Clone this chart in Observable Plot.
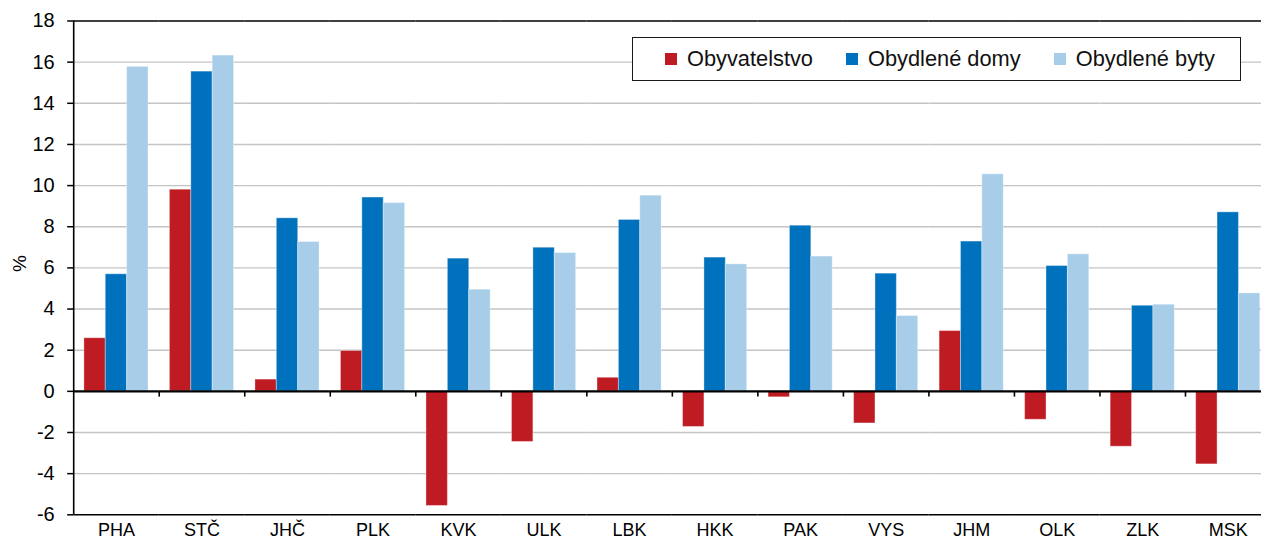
<!DOCTYPE html>
<html><head><meta charset="utf-8">
<script src="https://cdn.jsdelivr.net/npm/d3@7"></script>
<script src="https://cdn.jsdelivr.net/npm/@observablehq/plot@0.6"></script>
<style>
html,body{margin:0;padding:0;background:#fff;overflow:hidden}
#wrap{position:relative;width:1261px;height:540px}
#wrap svg{overflow:hidden;display:block}
.legend{position:absolute;left:632px;top:37px;width:609px;height:44px;box-sizing:border-box;border:1.5px solid #1a1a1a;background:#fff;display:flex;align-items:center;padding-left:32px;font-family:"Liberation Sans",Arial,sans-serif;font-size:21.8px;color:#111;white-space:nowrap}
.item{display:flex;align-items:center;margin-right:33px;white-space:nowrap;flex:none}
.sw{width:12px;height:12px;margin-right:10px;flex:none}
</style></head><body><div id="wrap"></div>
<script>
const regions = ["PHA","STČ","JHČ","PLK","KVK","ULK","LBK","HKK","PAK","VYS","JHM","OLK","ZLK","MSK"];
const series = ["Obyvatelstvo","Obydlené domy","Obydlené byty"];
const colors = ["#BE1B23","#0071BC","#A7CDE8"];
const obyvatelstvo = [2.58, 9.80, 0.57, 1.96, -5.57, -2.46, 0.66, -1.73, -0.29, -1.56, 2.93, -1.38, -2.69, -3.55];
const obydleneDomy = [5.69, 15.54, 8.41, 9.42, 6.45, 6.98, 8.33, 6.50, 8.05, 5.72, 7.28, 6.09, 4.16, 8.70];
const obydleneByty = [15.77, 16.32, 7.26, 9.15, 4.94, 6.72, 9.51, 6.17, 6.55, 3.66, 10.55, 6.66, 4.21, 4.76];
const yTicks = [-6,-4,-2,0,2,4,6,8,10,12,14,16,18];

const valuesBySeries = [obyvatelstvo, obydleneDomy, obydleneByty];
const data = regions.flatMap((r, i) => series.map((s, j) => ({region: r, series: s, value: valuesBySeries[j][i]})));

const W = 1261, H = 540, mL = 73.2, mR = -9.5, mT = 20.5, mB = 25.7;
const facetW = (W - mL - mR) / regions.length;
const step = facetW / (series.length + 1);
const font = "'Liberation Sans', Arial, sans-serif";

const chart = Plot.plot({
  width: W, height: H,
  marginLeft: mL, marginRight: mR, marginTop: mT, marginBottom: mB,
  style: {fontFamily: font, fontSize: "18px", color: "#000", background: "#fff", overflow: "hidden"},
  fx: {domain: regions, padding: 0, round: false, label: null},
  x: {domain: series, paddingInner: 0, paddingOuter: 0.5, round: false, axis: null},
  y: {domain: [-6, 18]},
  color: {domain: series, range: colors},
  marks: [
    Plot.ruleY(yTicks.filter(v => v !== 0 && v !== -6 && v !== 18), {stroke: "#c4c4c4", strokeWidth: 1.4}),
    Plot.barY(data, {fx: "region", x: "series", y: "value", fill: "series", stroke: "#fff", strokeOpacity: 0.35, strokeWidth: 1}),
    Plot.ruleY([-6, 18], {stroke: "#000", strokeWidth: 1.5}),
    Plot.ruleY([0], {stroke: "#000", strokeWidth: 2.2}),
    Plot.ruleX(regions.slice(1), {fx: d => d, x: () => series[0], dx: -step, y1: 0, y2: -0.28, stroke: "#000", strokeWidth: 1.6}),
    Plot.ruleX([series[0]], {fx: () => regions[0], x: d => d, dx: -step, y1: -6, y2: 18, stroke: "#000", strokeWidth: 1.6}),
    Plot.axisY({ticks: yTicks, tickSize: 6, tickPadding: 13, tickFormat: d => String(d), fontSize: 20, label: null, strokeWidth: 1.5}),
    Plot.axisFx({anchor: "bottom", tickSize: 0, tickPadding: 8, fontSize: 18, label: null}),
    Plot.text(["%"], {fx: () => regions[0], frameAnchor: "left", dx: -54, dy: 4, rotate: -90, fontSize: 19, text: d => d})
  ]
});

const wrap = document.getElementById("wrap");
wrap.appendChild(chart);
const legend = document.createElement("div");
legend.className = "legend";
series.forEach((s, j) => {
  const it = document.createElement("div");
  it.className = "item";
  const sw = document.createElement("span");
  sw.className = "sw";
  sw.style.background = colors[j];
  const tx = document.createElement("span");
  tx.textContent = s;
  it.appendChild(sw); it.appendChild(tx);
  legend.appendChild(it);
});
wrap.appendChild(legend);
</script></body></html>
